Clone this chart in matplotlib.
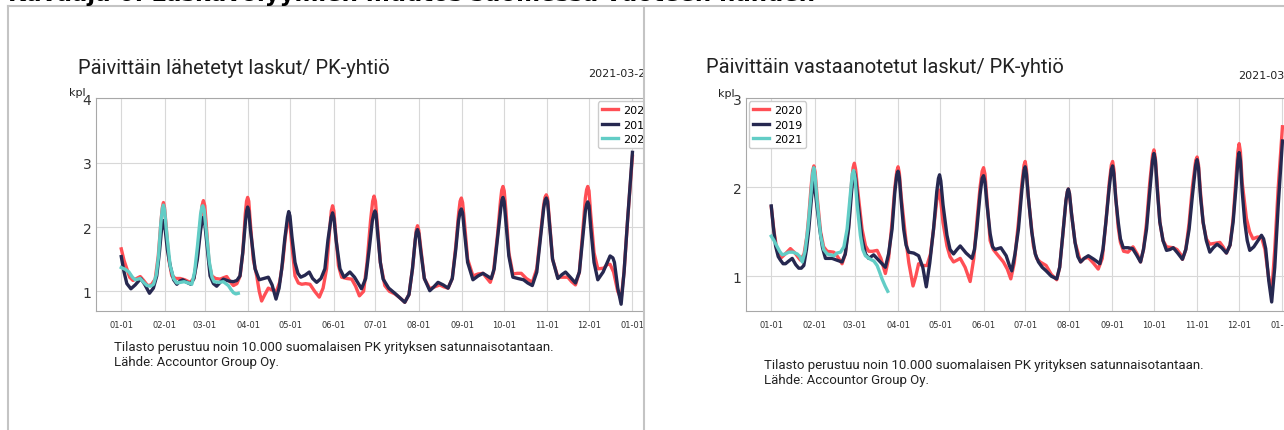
import datetime as dt
import numpy as np
import matplotlib
matplotlib.use('Agg')
import matplotlib.pyplot as plt
import matplotlib.dates as mdates
from matplotlib.patches import Rectangle
from matplotlib.lines import Line2D

# ---- data (day number counted from 1 Jan, value = invoices per company per day)
years = ['2020', '2019', '2021']

sent_days_2020 = [0, 2, 4, 6, 8.4, 11, 13.6, 16, 18.8, 21.5, 24.3, 26.5, 28.5, 29.4, 30.2, 31, 32, 34, 36.2, 39, 42.2, 45.5, 49.3, 52, 54.5, 56.8, 57.8, 58.8, 59.8, 60.8, 62.8, 64.8, 67.5, 70.8, 73, 75.5, 78, 80.3, 82.8, 85.1, 87, 88.8, 89.7, 90.5, 91.3, 92.3, 94.5, 97, 98.8, 100.5, 102.8, 105.3, 108, 111.3, 113.5, 115.6, 117.5, 118.9, 119.9, 120.9, 122, 124.4, 126.8, 129.2, 132, 135.1, 138.5, 141.8, 144.5, 147, 149, 150.4, 151.3, 152.2, 153.5, 155.5, 157.8, 161.5, 165, 167.8, 170.5, 173.5, 176, 178.5, 180, 181, 182, 183.3, 185.5, 188.7, 192, 195.9, 199.5, 203, 206, 208.5, 210.5, 211.3, 212.1, 213, 214.3, 217, 220.9, 224.5, 228, 231, 234, 237, 239.5, 241.5, 242.6, 243.5, 244.4, 245.6, 248, 251.8, 255.5, 259, 262, 264.2, 266.5, 269.5, 271.5, 272.4, 273.3, 274.2, 275.4, 277.5, 280.4, 283.5, 286.4, 290, 294.3, 297.5, 300.5, 302.5, 303.4, 304.3, 305.2, 306.4, 308.8, 312.6, 316, 319.7, 322.5, 325.2, 328, 330.5, 332.3, 333.2, 334, 334.9, 336.1, 338.5, 341.2, 345.5, 348, 350, 352.5, 355.5, 357.9, 360, 362.5, 366]
sent_2020 = [1.66, 1.48, 1.35, 1.22, 1.17, 1.2, 1.23, 1.17, 1.09, 1.1, 1.19, 1.55, 2.1, 2.3, 2.38, 2.3, 2.05, 1.5, 1.24, 1.2, 1.2, 1.18, 1.14, 1.2, 1.55, 2.1, 2.33, 2.41, 2.33, 2.05, 1.45, 1.24, 1.2, 1.19, 1.21, 1.23, 1.15, 1.09, 1.12, 1.24, 1.6, 2.2, 2.4, 2.46, 2.4, 2.1, 1.5, 1.24, 1.0, 0.85, 0.95, 1.05, 1.02, 1.01, 1.15, 1.45, 1.85, 2.05, 2.1, 2.02, 1.75, 1.24, 1.13, 1.11, 1.12, 1.11, 1.0, 0.91, 1.05, 1.35, 1.9, 2.25, 2.33, 2.25, 1.9, 1.4, 1.22, 1.2, 1.19, 1.08, 0.93, 1.0, 1.45, 2.1, 2.4, 2.48, 2.4, 2.05, 1.45, 1.09, 1.0, 0.96, 0.9, 0.83, 0.95, 1.35, 1.8, 1.96, 2.02, 1.95, 1.7, 1.2, 1.04, 1.07, 1.1, 1.07, 1.05, 1.2, 1.7, 2.2, 2.4, 2.45, 2.38, 2.1, 1.5, 1.24, 1.27, 1.28, 1.2, 1.14, 1.3, 1.9, 2.4, 2.57, 2.63, 2.56, 2.25, 1.6, 1.27, 1.28, 1.28, 1.2, 1.14, 1.35, 1.95, 2.35, 2.46, 2.5, 2.45, 2.15, 1.5, 1.22, 1.22, 1.22, 1.15, 1.1, 1.3, 1.95, 2.45, 2.58, 2.63, 2.56, 2.2, 1.6, 1.35, 1.36, 1.42, 1.42, 1.3, 1.0, 0.88, 1.3, 2.1, 3.1]

sent_days_2019 = [0, 2, 4, 6.9, 10, 14, 17, 20.2, 23, 25.4, 27.3, 28.8, 30.2, 31.5, 33, 35, 37.5, 39.8, 42, 44, 47, 49.8, 52, 54.5, 56.8, 57.9, 58.8, 59.7, 61, 63.6, 66, 68.3, 70.8, 73.1, 77, 80.3, 82.8, 85, 87, 89, 89.8, 90.5, 91.3, 92.5, 95.8, 98.8, 102, 105.3, 108, 110.8, 113, 114.9, 117, 119, 119.9, 120.8, 122.2, 124.4, 126.5, 128.5, 131.5, 134.6, 137, 139.9, 143, 145.8, 148, 150.3, 151.3, 152.3, 153.8, 156.6, 159.5, 163.7, 167, 172, 175, 177.5, 179.8, 180.8, 181.6, 182.4, 183.6, 185.5, 187.5, 191.5, 195.9, 199.5, 203, 206, 208.5, 210.5, 211.3, 212.1, 213, 214.3, 217, 220.9, 223.8, 226.8, 230.5, 234, 237, 239.5, 241.5, 242.6, 243.5, 244.4, 245.6, 248, 251.8, 255.5, 259, 262, 264.9, 267, 269.8, 271.8, 272.6, 273.3, 274.1, 275.3, 277.5, 280.4, 284, 288, 291, 294.3, 297.5, 300.5, 302.5, 303.4, 304.3, 305.2, 306.4, 308.8, 312.6, 315.5, 318.1, 321.5, 325.2, 328, 330.5, 332.3, 333.2, 334, 334.9, 336.1, 338.5, 341.2, 345, 348, 350, 352, 353.1, 355.5, 357.9, 360, 362.5, 366]
sent_2019 = [1.54, 1.3, 1.12, 1.04, 1.1, 1.2, 1.1, 0.97, 1.05, 1.24, 1.6, 1.95, 2.1, 1.95, 1.65, 1.4, 1.18, 1.11, 1.16, 1.18, 1.14, 1.11, 1.2, 1.5, 1.95, 2.1, 2.15, 2.08, 1.8, 1.24, 1.12, 1.08, 1.14, 1.19, 1.16, 1.15, 1.17, 1.24, 1.6, 2.1, 2.25, 2.31, 2.25, 1.95, 1.35, 1.18, 1.2, 1.22, 1.1, 0.88, 1.05, 1.35, 1.8, 2.15, 2.24, 2.17, 1.85, 1.45, 1.28, 1.22, 1.25, 1.3, 1.2, 1.14, 1.2, 1.35, 1.8, 2.15, 2.22, 2.13, 1.8, 1.35, 1.22, 1.3, 1.22, 1.04, 1.2, 1.65, 2.1, 2.2, 2.25, 2.2, 1.9, 1.45, 1.19, 1.05, 0.97, 0.9, 0.83, 0.95, 1.35, 1.8, 1.92, 1.96, 1.9, 1.65, 1.2, 1.01, 1.07, 1.14, 1.1, 1.05, 1.2, 1.65, 2.1, 2.24, 2.28, 2.22, 1.95, 1.45, 1.18, 1.24, 1.28, 1.24, 1.2, 1.35, 1.9, 2.3, 2.42, 2.46, 2.4, 2.1, 1.55, 1.22, 1.2, 1.18, 1.13, 1.09, 1.3, 1.9, 2.3, 2.41, 2.45, 2.4, 2.1, 1.5, 1.2, 1.26, 1.3, 1.22, 1.13, 1.3, 1.85, 2.25, 2.35, 2.39, 2.33, 2.0, 1.45, 1.18, 1.3, 1.45, 1.55, 1.52, 1.45, 1.05, 0.8, 1.3, 2.1, 3.16]

sent_days_2021 = [0, 3, 5.5, 8, 10, 12, 13.6, 16, 18.4, 21, 23.1, 25, 26.7, 28.3, 29.4, 30.2, 31, 32.3, 35, 37.5, 39.8, 42.5, 45, 48, 50.5, 52.5, 54.6, 56.8, 57.6, 58.4, 59.3, 60.8, 63.1, 65, 66.5, 70, 73.1, 76.7, 78.5, 80.3, 82, 83.8]
sent_2021 = [1.37, 1.34, 1.3, 1.22, 1.18, 1.19, 1.2, 1.14, 1.09, 1.08, 1.11, 1.25, 1.55, 2.05, 2.28, 2.34, 2.27, 1.95, 1.4, 1.2, 1.13, 1.14, 1.15, 1.13, 1.11, 1.3, 1.71, 2.2, 2.3, 2.33, 2.27, 1.95, 1.45, 1.22, 1.15, 1.14, 1.15, 1.09, 1.03, 0.98, 0.96, 0.97]

recv_days_2020 = [0, 2, 4, 6.6, 10, 13.7, 17, 20.9, 23.5, 25.5, 26.9, 28.5, 29.6, 30.5, 31.4, 32.8, 35.3, 37.5, 40, 44.8, 47.5, 50.7, 53, 55.5, 57.5, 58.6, 59.5, 60.4, 62, 65, 67.5, 69.8, 72.5, 75.8, 78.5, 81.7, 84, 86.5, 88.5, 89.9, 90.8, 91.7, 93, 96, 98.5, 101.5, 103.5, 105.5, 108.5, 111.5, 114, 116.2, 118.5, 120.1, 121.3, 123, 125.8, 128, 130.5, 133, 135.3, 138.8, 142.4, 145, 147.2, 149.5, 151, 152, 153, 154.5, 156.7, 159, 161.5, 166.2, 169, 171.5, 174, 177, 179.5, 181, 181.8, 182.7, 184, 187.7, 190, 192.5, 196.8, 200.5, 204.4, 206.5, 208.7, 211, 212, 212.7, 213.5, 215, 217.5, 221.5, 224, 227, 230.5, 234.1, 237, 239.6, 242, 243.5, 244.4, 245.3, 246.6, 248.4, 250, 252.3, 255.4, 259, 262, 264.4, 266.5, 268.7, 271, 273, 274, 275, 276.5, 278.2, 280.5, 283, 287.8, 290.5, 292.9, 294.4, 296.8, 299.2, 301.5, 303.9, 304.9, 305.9, 307.3, 309.2, 311.5, 314, 317.5, 321.2, 323.5, 325.9, 328.5, 330.7, 333, 334.1, 335, 335.9, 337.2, 340.2, 342.5, 344.9, 348, 351, 353.5, 356, 358.3, 360.5, 363, 366]
recv_2020 = [1.78, 1.5, 1.3, 1.2, 1.25, 1.31, 1.26, 1.18, 1.25, 1.45, 1.68, 2.0, 2.18, 2.24, 2.17, 1.9, 1.5, 1.33, 1.28, 1.27, 1.22, 1.14, 1.25, 1.6, 2.05, 2.22, 2.27, 2.2, 1.95, 1.53, 1.34, 1.28, 1.28, 1.29, 1.2, 1.03, 1.2, 1.61, 2.0, 2.18, 2.23, 2.16, 1.9, 1.46, 1.15, 0.89, 1.0, 1.14, 1.12, 1.12, 1.25, 1.53, 1.85, 1.97, 1.85, 1.6, 1.34, 1.22, 1.16, 1.18, 1.2, 1.1, 0.94, 1.2, 1.61, 2.0, 2.18, 2.22, 2.15, 1.85, 1.4, 1.3, 1.25, 1.16, 1.08, 0.97, 1.15, 1.61, 2.05, 2.25, 2.29, 2.2, 1.9, 1.34, 1.2, 1.16, 1.12, 1.02, 0.96, 1.1, 1.46, 1.85, 1.95, 1.98, 1.93, 1.7, 1.38, 1.16, 1.2, 1.21, 1.15, 1.08, 1.2, 1.61, 2.05, 2.25, 2.29, 2.2, 1.9, 1.55, 1.38, 1.28, 1.27, 1.33, 1.25, 1.16, 1.3, 1.6, 2.05, 2.36, 2.42, 2.33, 2.0, 1.61, 1.4, 1.33, 1.32, 1.3, 1.25, 1.19, 1.3, 1.6, 2.0, 2.3, 2.34, 2.25, 1.95, 1.6, 1.42, 1.36, 1.37, 1.38, 1.33, 1.26, 1.35, 1.65, 2.15, 2.4, 2.49, 2.4, 2.05, 1.65, 1.5, 1.42, 1.44, 1.44, 1.3, 1.0, 0.82, 1.3, 2.0, 2.68]

recv_days_2019 = [0, 1.5, 3.1, 5, 6.6, 8.5, 10.2, 12.5, 15, 17.5, 19.7, 21.5, 23.3, 25.2, 26.9, 28.8, 29.7, 30.5, 31.3, 32.6, 34.7, 36.7, 38.8, 41, 43.6, 47, 50.7, 53, 55.5, 57.5, 58.6, 59.5, 60.4, 62, 65, 67.5, 69.8, 71.5, 73.3, 77.5, 81.7, 84, 86.5, 88.5, 89.9, 90.8, 91.7, 93, 94.8, 96.5, 98.4, 102, 105.5, 108.5, 111, 113.5, 116.2, 118.5, 119.7, 120.5, 121.4, 123, 125.8, 128, 130.5, 133, 135.3, 139.5, 143.7, 145.5, 147.2, 149.5, 151, 152, 153, 154.5, 156.7, 158.5, 160.3, 164.4, 168.2, 170.5, 172.2, 174.5, 177, 179.5, 181, 181.8, 182.7, 184, 186.5, 189, 191.3, 194, 196.8, 200.5, 204.4, 206.5, 208.7, 211, 212, 212.7, 213.5, 215, 217.5, 219.5, 221.5, 224, 227, 231, 235.3, 237.5, 239.6, 242, 243.5, 244.4, 245.3, 246.6, 248.4, 250, 252, 255.5, 258.7, 261.5, 264.4, 266.5, 268.7, 271, 273, 274, 275, 276.5, 278.2, 280.5, 283, 285.5, 287.8, 291, 294.4, 296.8, 299.2, 301.5, 303.9, 304.9, 305.9, 307.3, 309.2, 311.5, 314, 316.5, 319.2, 322.5, 325.9, 328.5, 330.7, 333, 334.1, 335, 335.9, 337.2, 339, 340.8, 342.6, 345.5, 348.5, 351, 352.5, 354, 356.2, 358.3, 360.5, 363, 366]
recv_2019 = [1.79, 1.55, 1.34, 1.22, 1.18, 1.14, 1.14, 1.17, 1.2, 1.13, 1.09, 1.09, 1.12, 1.3, 1.53, 1.88, 2.0, 2.06, 1.98, 1.8, 1.53, 1.32, 1.2, 1.2, 1.2, 1.18, 1.16, 1.25, 1.55, 1.95, 2.12, 2.17, 2.1, 1.85, 1.42, 1.25, 1.2, 1.22, 1.24, 1.17, 1.1, 1.25, 1.53, 1.95, 2.14, 2.18, 2.11, 1.85, 1.53, 1.35, 1.27, 1.26, 1.23, 1.1, 0.88, 1.15, 1.53, 1.95, 2.1, 2.14, 2.07, 1.8, 1.46, 1.3, 1.25, 1.3, 1.34, 1.26, 1.2, 1.3, 1.53, 1.92, 2.1, 2.13, 2.06, 1.8, 1.48, 1.33, 1.3, 1.32, 1.23, 1.12, 1.06, 1.25, 1.53, 1.98, 2.19, 2.23, 2.15, 1.9, 1.5, 1.25, 1.16, 1.1, 1.06, 1.0, 0.97, 1.1, 1.46, 1.85, 1.95, 1.98, 1.93, 1.7, 1.38, 1.22, 1.16, 1.2, 1.23, 1.19, 1.14, 1.3, 1.61, 2.0, 2.2, 2.24, 2.15, 1.88, 1.61, 1.42, 1.32, 1.32, 1.31, 1.24, 1.16, 1.3, 1.53, 1.95, 2.3, 2.38, 2.3, 1.95, 1.61, 1.4, 1.29, 1.3, 1.32, 1.26, 1.19, 1.3, 1.53, 1.9, 2.25, 2.31, 2.22, 1.9, 1.61, 1.4, 1.27, 1.32, 1.36, 1.32, 1.26, 1.35, 1.61, 2.05, 2.3, 2.39, 2.3, 1.95, 1.61, 1.4, 1.29, 1.33, 1.4, 1.46, 1.42, 1.31, 0.95, 0.71, 1.1, 1.8, 2.52]

recv_days_2021 = [0, 2, 4.3, 6, 7.9, 10, 12.6, 15.5, 18.6, 20.5, 22.2, 24.2, 26.2, 28.3, 29.6, 30.5, 31.4, 32.8, 35.3, 37.5, 40, 42.5, 44.8, 47, 49.6, 52, 54.3, 56.5, 58, 59, 60, 61.5, 63.8, 65.5, 67.4, 71, 73.5, 75.8, 77.5, 79.3, 81.5, 83.4]
recv_2021 = [1.45, 1.4, 1.33, 1.28, 1.24, 1.25, 1.27, 1.27, 1.25, 1.22, 1.16, 1.28, 1.53, 1.9, 2.15, 2.22, 2.12, 1.85, 1.46, 1.3, 1.25, 1.24, 1.23, 1.26, 1.27, 1.33, 1.53, 1.9, 2.15, 2.19, 2.1, 1.8, 1.46, 1.3, 1.23, 1.19, 1.17, 1.12, 1.05, 0.97, 0.89, 0.83]

colors = {'2020': '#ff4f55', '2019': '#262850', '2021': '#62cdc6'}

W, H = 1284, 431
fig = plt.figure(figsize=(W / 100, H / 100), dpi=100)


def fx(px):
    return px / W


def fy(py):
    return 1 - py / H


d0 = mdates.date2num(dt.datetime(2020, 1, 1))


def draw(ax, series, ylim, yticks, legend_loc):
    for year, (days, vals) in zip(years, series):
        ax.plot(d0 + np.array(days), vals, color=colors[year], lw=2.4,
                label=year, solid_joinstyle='round')
    ax.set_xlim(d0 - 18.3, d0 + 384.3)
    ax.set_ylim(*ylim)
    ax.set_yticks(yticks)
    ax.xaxis.set_major_locator(mdates.MonthLocator())
    ax.xaxis.set_major_formatter(mdates.DateFormatter('%m-%d'))
    ax.grid(True, color='#d8d8d8', lw=0.8)
    ax.set_axisbelow(True)
    for s in ax.spines.values():
        s.set_color('#a8a8a8')
    ax.tick_params(axis='x', length=0, labelsize=6, pad=6.5, colors='#333333')
    ax.tick_params(axis='y', length=0, labelsize=10, pad=3, colors='#333333')
    ax.legend(loc=legend_loc, fontsize=8, handlelength=1.5, handletextpad=0.4,
              labelspacing=0.4, borderpad=0.35, borderaxespad=0.28,
              framealpha=1, edgecolor='#cccccc')


ax1 = fig.add_axes([fx(95.7), fy(312.3), 562.3 / W, 213 / H])
draw(ax1, [(sent_days_2020, sent_2020), (sent_days_2019, sent_2019), (sent_days_2021, sent_2021)],
     (0.69, 4), [1, 2, 3, 4], 'upper right')

# texts of the left picture
fig.text(fx(78), fy(74), 'Päivittäin lähetetyt laskut/ PK-yhtiö', fontsize=14.5,
         family='Roboto', color='#222222', va='baseline', zorder=2)
fig.text(fx(588), fy(77), '2021-03-26', fontsize=8, color='#222222', va='baseline', zorder=2)
fig.text(fx(86), fy(96), 'kpl', fontsize=8, color='#222222', ha='right', va='baseline', zorder=2)
fig.text(fx(114), fy(354.6), 'Tilasto perustuu noin 10.000 suomalaisen PK yrityksen satunnaisotantaan.\n'
         'Lähde: Accountor Group Oy.', fontsize=9.5, family='Roboto', color='#222222',
         va='center', linespacing=1.2, zorder=2)

# the right picture covers what sticks out of the left one
fig.add_artist(Rectangle((fx(644), 0), fx(702) - fx(644), fy(8), transform=fig.transFigure,
                         facecolor='white', edgecolor='none', zorder=3))

ax2 = fig.add_axes([fx(745.7), fy(311.7), 562.3 / W, (311.7 - 99.3) / H])
ax2.set_zorder(5)
draw(ax2, [(recv_days_2020, recv_2020), (recv_days_2019, recv_2019), (recv_days_2021, recv_2021)],
     (0.612, 3), [1, 2, 3], 'upper left')

fig.text(fx(706), fy(73), 'Päivittäin vastaanotetut laskut/ PK-yhtiö', fontsize=14.5,
         family='Roboto', color='#222222', va='baseline', zorder=6)
fig.text(fx(1238), fy(79), '2021-03-26', fontsize=8, color='#222222', va='baseline', zorder=6)
fig.text(fx(735), fy(97), 'kpl', fontsize=8, color='#222222', ha='right', va='baseline', zorder=6)
fig.text(fx(764), fy(372.7), 'Tilasto perustuu noin 10.000 suomalaisen PK yrityksen satunnaisotantaan.\n'
         'Lähde: Accountor Group Oy.', fontsize=9.5, family='Roboto', color='#222222',
         va='center', linespacing=1.2, zorder=6)

# document frame and cut-off caption
border = dict(color='#c4c4c4', lw=1.5, transform=fig.transFigure, zorder=7)
fig.add_artist(Line2D([fx(8), 1], [fy(7), fy(7)], **border))
fig.add_artist(Line2D([fx(8), fx(8)], [fy(7), 0], **border))
fig.add_artist(Line2D([fx(643.5), fx(643.5)], [fy(7), 0], **border))
fig.text(fx(8), fy(1.5), 'Kuvaaja 6: Laskuvolyymien muutos suomessa vuoteen nähden',
         fontsize=16.5, fontweight='bold', color='black', va='baseline', zorder=7)

fig.savefig('out.png', dpi=100)
